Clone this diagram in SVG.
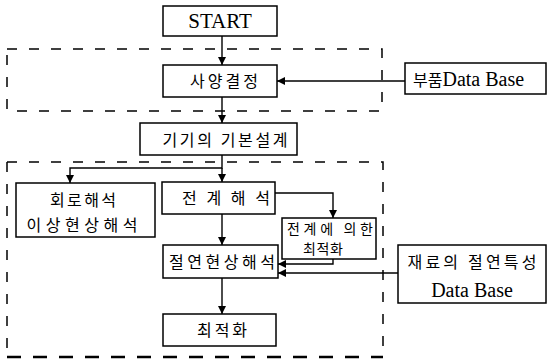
<svg xmlns="http://www.w3.org/2000/svg" width="547" height="360" viewBox="0 0 547 360">
<style>
.box{fill:#fff;stroke:#000;stroke-width:1.5}
.dash{fill:none;stroke:#000;stroke-width:1.5;stroke-dasharray:10 12}
.dashb{fill:none;stroke:#000;stroke-width:2.5;stroke-dasharray:14 12}
.ln{fill:none;stroke:#000;stroke-width:1.4}
.ko{font-family:"Noto Sans CJK KR","Noto Sans",sans-serif;font-size:16px;fill:#000}
.ks{font-size:14px}
.en{font-family:"Liberation Serif",serif;fill:#000}
</style>
<defs>
<marker id="ah" markerUnits="userSpaceOnUse" markerWidth="10" markerHeight="10" refX="8" refY="4" orient="auto">
<path d="M0,0 L8,4 L0,8 Z" fill="#000"/>
</marker>
</defs>
<g id="groups">
<path class="dash" d="M7,49 H382 V111 H7 Z"/>
<path class="dash" d="M7,162 H383 V357"/>
<path class="dash" d="M7,162 V357"/>
<path class="dashb" d="M7,357 H383"/>
</g>
<g id="connectors">
<line class="ln" x1="222" y1="36" x2="222" y2="65" marker-end="url(#ah)"/>
<line class="ln" x1="405" y1="81" x2="277" y2="81" marker-end="url(#ah)"/>
<line class="ln" x1="222" y1="97" x2="222" y2="123" marker-end="url(#ah)"/>
<polyline class="ln" points="222,155 222,168 70,168 70,183" marker-end="url(#ah)"/>
<line class="ln" x1="222" y1="168" x2="222" y2="182" marker-end="url(#ah)"/>
<polyline class="ln" points="275,193 333,193 333,218" marker-end="url(#ah)"/>
<line class="ln" x1="222" y1="214" x2="222" y2="245" marker-end="url(#ah)"/>
<polyline class="ln" points="333,259 333,264 278,264" marker-end="url(#ah)"/>
<line class="ln" x1="398" y1="273" x2="278" y2="273" marker-end="url(#ah)"/>
<line class="ln" x1="222" y1="278" x2="222" y2="314" marker-end="url(#ah)"/>
</g>
<g id="start">
<rect class="box" x="163" y="6" width="114" height="30"/>
<text class="en" x="220" y="28" font-size="21" text-anchor="middle">START</text>
</g>
<g id="spec">
<rect class="box" x="163" y="65" width="114" height="32"/>
<text class="ko" x="224" y="87" text-anchor="middle" textLength="68" lengthAdjust="spacing">사양결정</text>
</g>
<g id="partsdb">
<rect class="box" x="405" y="63" width="141" height="31"/>
<text x="413" y="86"><tspan class="ko">부품</tspan><tspan class="en" font-size="20">Data Base</tspan></text>
</g>
<g id="basic">
<rect class="box" x="140" y="123" width="157" height="32"/>
<text class="ko" x="225" y="146" text-anchor="middle" textLength="125" lengthAdjust="spacing">기기의 기본설계</text>
</g>
<g id="circuit">
<rect class="box" x="16" y="183" width="139" height="54"/>
<text class="ko" x="83" y="206" text-anchor="middle" textLength="66" lengthAdjust="spacing">회로해석</text>
<text class="ko" x="82" y="231" text-anchor="middle" textLength="111" lengthAdjust="spacing">이상현상해석</text>
</g>
<g id="field">
<rect class="box" x="162" y="182" width="113" height="32"/>
<text class="ko" x="226" y="204" text-anchor="middle" textLength="88" lengthAdjust="spacing">전계해석</text>
</g>
<g id="fieldopt">
<rect class="box" x="282" y="218" width="94" height="41"/>
<text class="ko ks" x="330" y="234" text-anchor="middle" textLength="86" lengthAdjust="spacing">전계에 의한</text>
<text class="ko ks" x="323" y="254" text-anchor="middle" textLength="40" lengthAdjust="spacing">최적화</text>
</g>
<g id="insul">
<rect class="box" x="163" y="245" width="115" height="33"/>
<text class="ko" x="222" y="268" text-anchor="middle" textLength="106" lengthAdjust="spacing">절연현상해석</text>
</g>
<g id="matdb">
<rect class="box" x="398" y="245" width="148" height="58"/>
<text class="ko" x="472" y="268" text-anchor="middle" textLength="129" lengthAdjust="spacing">재료의 절연특성</text>
<text class="en" x="472" y="297" font-size="20" text-anchor="middle">Data Base</text>
</g>
<g id="optimize">
<rect class="box" x="163" y="314" width="113" height="32"/>
<text class="ko" x="222" y="336" text-anchor="middle" textLength="50" lengthAdjust="spacing">최적화</text>
</g>
</svg>
